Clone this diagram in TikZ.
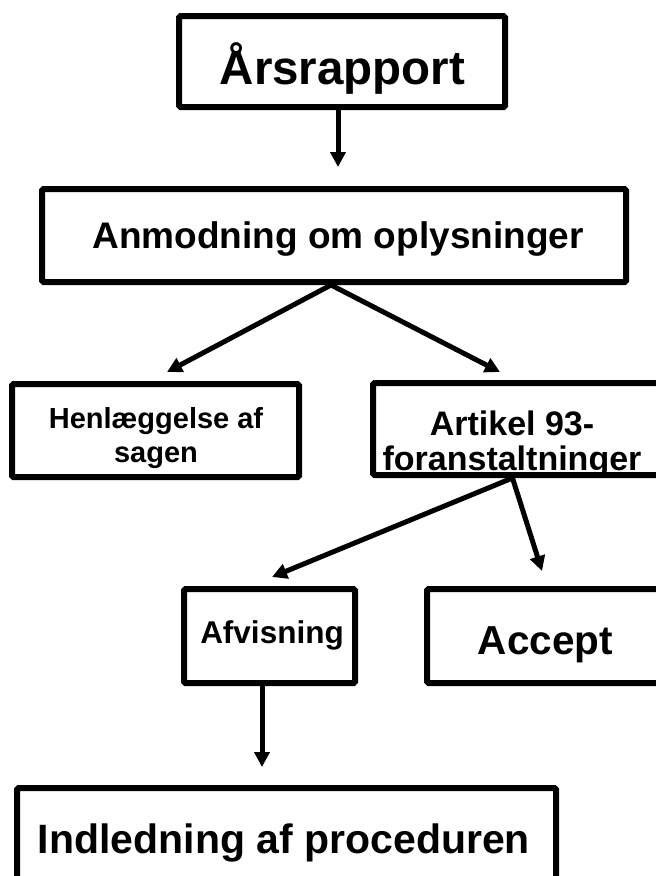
\documentclass[tikz,border=0pt]{standalone}
\usepackage{fontspec}
\setmainfont{Liberation Sans}
\usetikzlibrary{arrows.meta}

\tikzset{
  box/.style={draw=black, line width=6pt, fill=white, inner sep=0pt, rounded corners=1.5pt},
  lbl/.style={inner sep=0pt, align=center, font=\bfseries},
  arr/.style={draw=black, line width=5pt,
    -{Triangle[length=15pt,width=15pt]}},
}

\begin{document}
\begin{tikzpicture}[x=1pt,y=-1pt]
  \useasboundingbox (0,0) rectangle (656,876);
  \clip (0,0) rectangle (656,876);

  % boxes
  \node[box, minimum width=326pt, minimum height=91pt] (b1) at (342,61.5) {};
  \node[box, minimum width=584pt, minimum height=93pt] (b2) at (334,235.5) {};
  \node[box, minimum width=287pt, minimum height=93pt] (b3) at (155.5,430.5) {};
  \node[box, minimum width=291pt, minimum height=92pt] (b4) at (518.5,429) {};
  \node[box, minimum width=171pt, minimum height=94pt] (b5) at (269.5,636) {};
  \node[box, minimum width=237pt, minimum height=94pt] (b6) at (545.5,636) {};
  \node[box, minimum width=539pt, minimum height=112pt] (b7) at (286.5,844) {};

  % labels
  \node[lbl, anchor=base, font=\bfseries\fontsize{47.5}{52}\selectfont] (t1) at (342.5,84) {Årsrapport};
  \node[lbl, anchor=base, font=\bfseries\fontsize{37}{42}\selectfont] (t2) at (338,248) {Anmodning om oplysninger};
  \node[lbl, anchor=north, font=\bfseries\fontsize{29}{34}\selectfont] (t3) at (156,407) {Henlæggelse af\\sagen};
  \node[lbl, anchor=north, font=\bfseries\fontsize{34}{35}\selectfont] (t4) at (512,411) {Artikel 93-\\foranstaltninger};
  \node[lbl, anchor=base, font=\bfseries\fontsize{31.5}{36}\selectfont] (t5) at (272,643) {Afvisning};
  \node[lbl, anchor=base, font=\bfseries\fontsize{40.5}{46}\selectfont] (t6) at (545.5,654) {Accept};
  \node[lbl, anchor=base, font=\bfseries\fontsize{41}{48}\selectfont] (t7) at (284,853) {Indledning af proceduren};

  % connectors
  \draw[arr] ([xshift=-4pt]b1.south) -- ([xshift=4pt,yshift=19pt]b2.north);
  \draw[arr] ([xshift=-3pt]b2.south) -- ([xshift=11.5pt,yshift=9pt]b3.north);
  \draw[arr] ([xshift=-3pt]b2.south) -- ([xshift=-18.5pt,yshift=8pt]b4.north);
  \draw[arr] ([xshift=-6pt]b4.south) -- ([xshift=2.5pt,yshift=9pt]b5.north);
  \draw[arr] ([xshift=-6pt]b4.south) -- ([xshift=-3.5pt,yshift=15pt]b6.north);
  \draw[arr] ([xshift=-7.5pt]b5.south) -- ([xshift=-24.5pt,yshift=18pt]b7.north);
\end{tikzpicture}
\end{document}
